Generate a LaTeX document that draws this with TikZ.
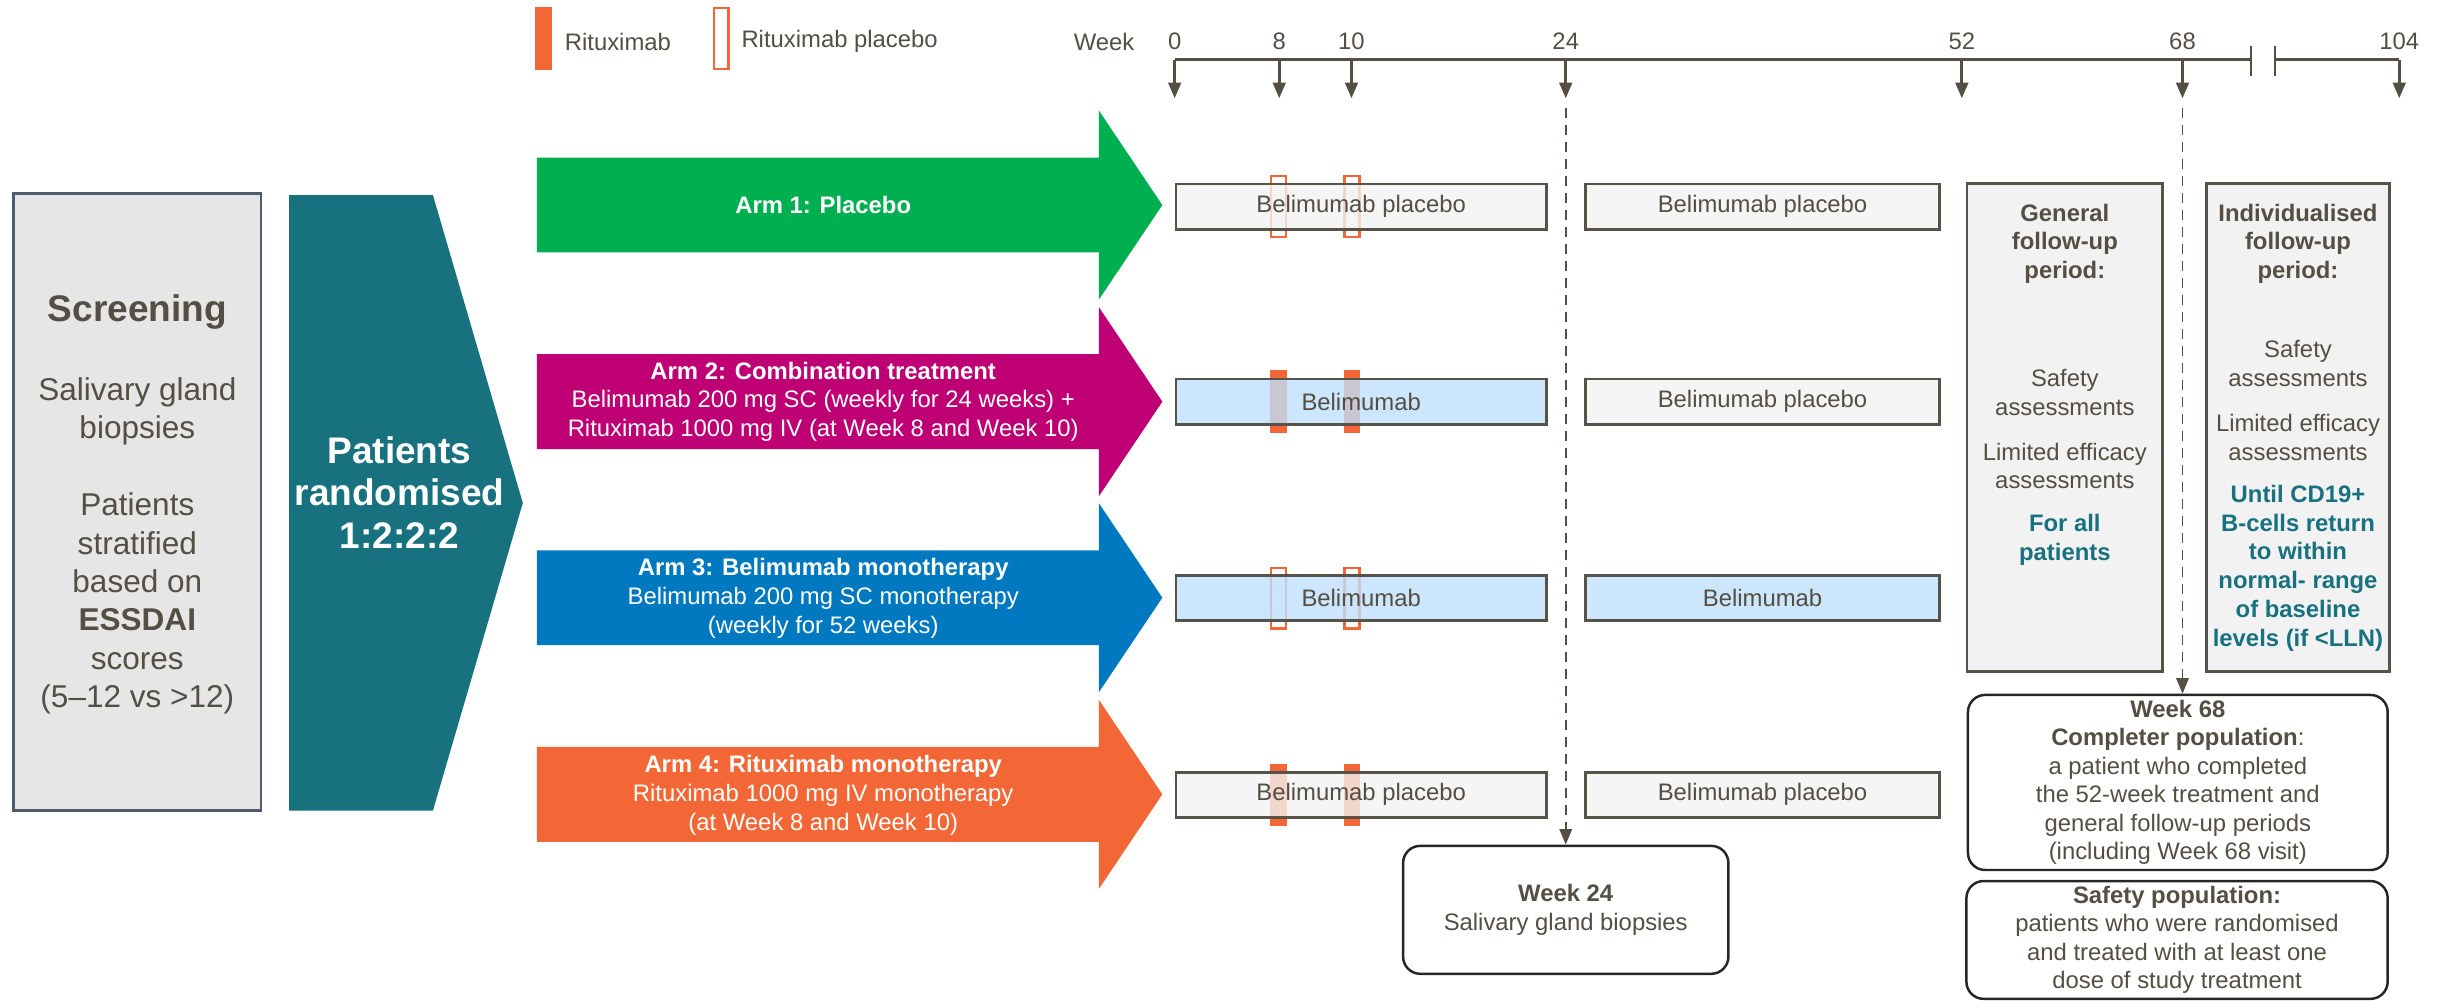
\documentclass[tikz,border=0pt]{standalone}
\usepackage{fontspec}
\setmainfont{Liberation Sans}
\usetikzlibrary{arrows.meta}
\definecolor{txtgray}{RGB}{84,78,67}
\definecolor{boxline}{RGB}{88,83,72}
\definecolor{boxgray}{RGB}{242,242,242}
\definecolor{boxblue}{RGB}{191,224,252}
\definecolor{scrfill}{RGB}{230,230,230}
\definecolor{scrline}{RGB}{80,92,110}
\definecolor{tealdark}{RGB}{23,113,126}
\definecolor{armgreen}{RGB}{0,176,80}
\definecolor{armpink}{RGB}{190,0,116}
\definecolor{armblue}{RGB}{0,121,193}
\definecolor{ritorange}{RGB}{242,103,53}
\begin{document}
\begin{tikzpicture}[x=0.02cm, y=-0.02cm,
  txt/.style={text=txtgray, font=\fontsize{8.7}{10.5}\selectfont, align=center, inner sep=0pt},
  arm/.style={text=white, font=\fontsize{8.7}{10.5}\selectfont, align=center, inner sep=0pt},
  bar/.style={draw=boxline, line width=1pt, fill opacity=0.8, text opacity=1, minimum height=0.58cm, inner sep=0pt, text=txtgray, font=\fontsize{8.7}{10.5}\selectfont},
  rit/.style={fill=ritorange, minimum width=0.21cm, minimum height=0.8cm, inner sep=0pt},
  ritp/.style={draw=ritorange, fill=white, line width=0.9pt, minimum width=0.19cm, minimum height=0.78cm, inner sep=0pt},
  tl/.style={draw=txtgray, line width=1.1pt},
  tip/.style={-{Triangle[length=0.2cm,width=0.16cm]}},
  dsh/.style={draw=txtgray, line width=0.7pt, dash pattern=on 3.6pt off 2.6pt},
  popbox/.style={draw=black!85, line width=0.9pt, rounded corners=0.22cm, fill=white, align=center, inner sep=0pt, text=txtgray, font=\fontsize{8.7}{10.4}\selectfont},
  fubox/.style={draw=boxline, fill=boxgray, line width=1pt, inner sep=0pt}]
\useasboundingbox (0,0) rectangle (1568,641);

% legend
\node (legR)[rit] at (348.2,24.6) {};
\node (legRt)[txt, anchor=west] at (361.6,26.7) {Rituximab};
\node (legP)[ritp] at (462.2,24.6) {};
\node (legPt)[txt, anchor=west] at (474.8,26.7) {Rituximab placebo};

% timeline
\node (week)[txt] at (707.5,26.7) {Week};
\foreach \x/\lbl in {752.7/0, 819.7/8, 866/10, 1003.3/24, 1257.1/52, 1398.5/68, 1537.4/104} {
  \node (lab\lbl)[txt] at (\x,26.7) {\lbl};
  \coordinate (t\lbl) at (\x,38.4);
  \coordinate (a\lbl) at (\x,63);
  \draw[tl, tip] (t\lbl) -- (a\lbl);
}
\coordinate (brk1) at (1442.5,38.4);
\coordinate (brk2) at (1457.6,38.4);
\draw[tl] (t0) -- (brk1);
\draw[tl] (brk2) -- (t104);
\draw[tl, line width=0.9pt] (1442.5,29.5) -- (1442.5,48.7);
\draw[tl, line width=0.9pt] (1457.6,29.5) -- (1457.6,48.7);

% screening
\node (scr)[draw=scrline, fill=scrfill, line width=1pt, minimum width=3.172cm, minimum height=7.912cm, inner sep=0pt] at (88,321.7) {};
\node (scrT)[txt, font=\fontsize{13.5}{16}\selectfont\bfseries] at (88,200) {Screening};
\node (scrB)[txt, font=\fontsize{11.5}{14}\selectfont] at (88,263.5) {Salivary gland\\biopsies};
\node (scrS)[txt, font=\fontsize{11.5}{14}\selectfont] at (88,386.8) {Patients\\stratified\\based on\\\textbf{ESSDAI}\\scores\\(5–12 vs >12)};

% randomisation
\fill[tealdark] (185.2,125) -- (277.4,125) -- (335,322.3) -- (277.4,519.5) -- (185.2,519.5) -- cycle;
\node (rand)[arm, font=\fontsize{13.5}{15.6}\selectfont\bfseries] at (256,315.5) {Patients\\randomised\\1:2:2:2};

% arms
\foreach \c/\y in {armgreen/131.4, armpink/257.4, armblue/383, ritorange/509}
  \fill[\c] (344,\y-30.4) -- (704.2,\y-30.4) -- (704.2,\y-60.5) -- (744.8,\y)
    -- (704.2,\y+60.5) -- (704.2,\y+30.4) -- (344,\y+30.4) -- cycle;
\node (arm1)[arm] at (527.5,131.4) {\textbf{Arm 1: Placebo}};
\node (arm2)[arm] at (527.5,257.4) {\textbf{Arm 2: Combination treatment}\\Belimumab 200 mg SC (weekly for 24 weeks) +\\Rituximab 1000 mg IV (at Week 8 and Week 10)};
\node (arm3)[arm] at (527.5,383.5) {\textbf{Arm 3: Belimumab monotherapy}\\Belimumab 200 mg SC monotherapy\\(weekly for 52 weeks)};
\node (arm4)[arm] at (527.5,509.7) {\textbf{Arm 4: Rituximab monotherapy}\\Rituximab 1000 mg IV monotherapy\\(at Week 8 and Week 10)};

% rituximab doses
\node (m1a)[ritp] at (819.3,132.4) {};
\node (m1b)[ritp] at (866.3,132.4) {};
\node (m2a)[rit] at (819.3,257.4) {};
\node (m2b)[rit] at (866.3,257.4) {};
\node (m3a)[ritp] at (819.3,383.3) {};
\node (m3b)[ritp] at (866.3,383.3) {};
\node (m4a)[rit] at (819.3,509.3) {};
\node (m4b)[rit] at (866.3,509.3) {};

% treatment periods
\node (b1l)[bar, fill=boxgray, minimum width=4.744cm] at (872.2,132.4) {Belimumab placebo};
\node (b1r)[bar, fill=boxgray, minimum width=4.536cm] at (1129.4,132.4) {Belimumab placebo};
\node (b2l)[bar, fill=boxblue, minimum width=4.744cm] at (872.2,257.4) {Belimumab};
\node (b2r)[bar, fill=boxgray, minimum width=4.536cm] at (1129.4,257.4) {Belimumab placebo};
\node (b3l)[bar, fill=boxblue, minimum width=4.744cm] at (872.2,383.3) {Belimumab};
\node (b3r)[bar, fill=boxblue, minimum width=4.536cm] at (1129.4,383.3) {Belimumab};
\node (b4l)[bar, fill=boxgray, minimum width=4.744cm] at (872.2,509.3) {Belimumab placebo};
\node (b4r)[bar, fill=boxgray, minimum width=4.536cm] at (1129.4,509.3) {Belimumab placebo};

% follow-up
\node (gen)[fubox, minimum width=2.508cm, minimum height=6.258cm] at (1323.1,274) {};
\node (genT)[txt, font=\fontsize{8.7}{10.5}\selectfont\bfseries] at (1323.1,156.2) {General\\follow-up\\period:};
\node (genS)[txt] at (1323.1,251.7) {Safety\\assessments};
\node (genE)[txt] at (1323.1,298.6) {Limited efficacy\\assessments};
\node (genA)[txt, text=tealdark, font=\fontsize{8.7}{10.5}\selectfont\bfseries] at (1323.1,345.8) {For all\\patients};
\node (ind)[fubox, minimum width=2.34cm, minimum height=6.258cm] at (1472.5,274) {};
\node (indT)[txt, font=\fontsize{8.7}{10.5}\selectfont\bfseries] at (1472.5,156.2) {Individualised\\follow-up\\period:};
\node (indS)[txt] at (1472.5,233) {Safety\\assessments};
\node (indE)[txt] at (1472.5,280.5) {Limited efficacy\\assessments};
\node (indU)[txt, text=tealdark, font=\fontsize{8.7}{10.5}\selectfont\bfseries] at (1472.5,364) {Until CD19+\\B-cells return\\to within\\normal- range\\of baseline\\levels (if <LLN)};

% populations
\node (w24)[popbox, minimum width=4.17cm, minimum height=1.64cm] at (1003.3,583) {\textbf{Week 24}\\Salivary gland biopsies};
\node (w68)[popbox, minimum width=5.38cm, minimum height=2.244cm] at (1395.5,501.4) {\textbf{Week 68}\\\textbf{Completer population}:\\a patient who completed\\the 52-week treatment and\\general follow-up periods\\(including Week 68 visit)};
\node (safe)[popbox, minimum width=5.4cm, minimum height=1.51cm] at (1395,602.3) {\textbf{Safety population:}\\patients who were randomised\\and treated with at least one\\dose of study treatment};

\coordinate (d24) at (1003.3,69.5);
\coordinate (d68) at (1398.5,69.5);
\draw[dsh, tip] (d24) -- (w24.north);
\draw[dsh, tip] (d68) -- (d68 |- w68.north);
\end{tikzpicture}
\end{document}
